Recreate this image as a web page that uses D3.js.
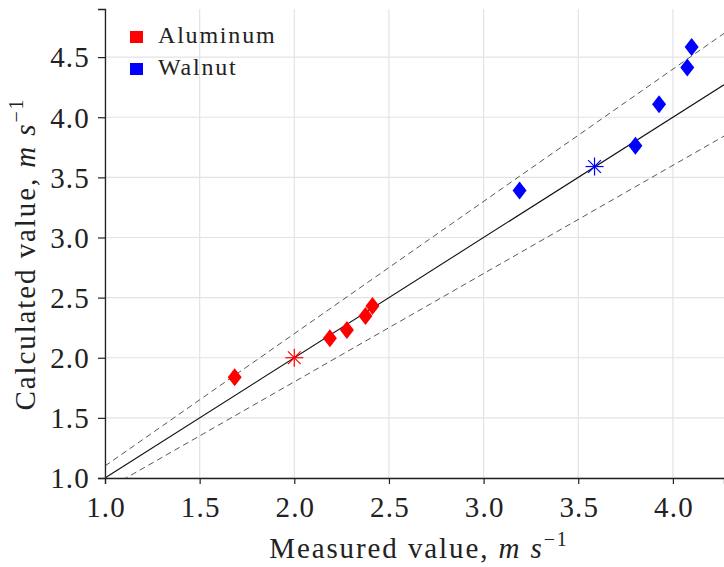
<!DOCTYPE html>
<html>
<head>
<meta charset="utf-8">
<script src="https://cdn.jsdelivr.net/npm/d3@7"></script>
<style>
  body { margin: 0; background: #fff; }
  text { font-family: "Liberation Serif", "DejaVu Serif", serif; fill: #222; }
</style>
</head>
<body>
<div id="canvas"></div>
<script>
(function(){

    // measured vs calculated, m/s
    var aluMeasured   = [1.685, 2.188, 2.278, 2.376, 2.413];
    var aluCalculated = [1.838, 2.162, 2.231, 2.348, 2.431];
    var aluRef        = [2.0, 2.0];

    var walMeasured   = [3.190, 3.802, 3.927, 4.076, 4.099];
    var walCalculated = [3.390, 3.763, 4.108, 4.413, 4.583];
    var walRef        = [3.586, 3.590];

    var xTicks = [1.0, 1.5, 2.0, 2.5, 3.0, 3.5, 4.0];
    var yTicks = [1.0, 1.5, 2.0, 2.5, 3.0, 3.5, 4.0, 4.5];
    var bandFactors = [1.1, 0.9];

    var width = 724, height = 567;
    var margin = {left: 105, top: 9, right: 0, bottom: 89};

    var svg = d3.select("#canvas")
                .append("svg")
                .attr("width", width)
                .attr("height", height);

    var x = d3.scaleLinear().domain([1.0, 4.27]).range([margin.left, width - margin.right]);
    var y = d3.scaleLinear().domain([1.0, 4.9]).range([height - margin.bottom, margin.top]);

    svg.append("clipPath").attr("id", "clip")
       .append("rect")
       .attr("x", margin.left).attr("y", margin.top)
       .attr("width", width - margin.left - margin.right)
       .attr("height", height - margin.top - margin.bottom);

    // grid
    svg.append("g").selectAll("line").data(xTicks).enter().append("line")
       .attr("x1", d => x(d)).attr("x2", d => x(d))
       .attr("y1", y.range()[0]).attr("y2", y.range()[1])
       .attr("stroke", "#e3e3e3").attr("stroke-width", 1.2);
    svg.append("g").selectAll("line").data(yTicks).enter().append("line")
       .attr("x1", x.range()[0]).attr("x2", x.range()[1])
       .attr("y1", d => y(d)).attr("y2", d => y(d))
       .attr("stroke", "#e3e3e3").attr("stroke-width", 1.2);

    var plot = svg.append("g").attr("clip-path", "url(#clip)");
    var xr = x.domain();

    // y = x
    plot.append("line")
        .attr("x1", x(xr[0])).attr("y1", y(xr[0]))
        .attr("x2", x(xr[1])).attr("y2", y(xr[1]))
        .attr("stroke", "#111").attr("stroke-width", 1.1);

    // +/- 10 % band
    for (var f of bandFactors) {
        plot.append("line")
            .attr("x1", x(xr[0])).attr("y1", y(xr[0] * f))
            .attr("x2", x(xr[1])).attr("y2", y(xr[1] * f))
            .attr("stroke", "#444").attr("stroke-width", 0.9)
            .attr("stroke-dasharray", "6,4");
    }

    var diamond = "M0,-9L7,0L0,9L-7,0Z";

    function drawSeries(mx, cy, ref, col) {
        plot.append("g").selectAll("path").data(mx).enter().append("path")
            .attr("d", diamond)
            .attr("transform", (d, i) => "translate(" + x(d) + "," + y(cy[i]) + ")")
            .attr("fill", col);

        var star = plot.append("g")
            .attr("transform", "translate(" + x(ref[0]) + "," + y(ref[1]) + ")");
        for (var a = 0; a < 180; a += 45) {
            var r = 9, t = a * Math.PI / 180;
            star.append("line")
                .attr("x1", -r * Math.cos(t)).attr("y1", -r * Math.sin(t))
                .attr("x2", r * Math.cos(t)).attr("y2", r * Math.sin(t))
                .attr("stroke", col).attr("stroke-width", 1.2);
        }
    }
    drawSeries(aluMeasured, aluCalculated, aluRef, "#ff0000");
    drawSeries(walMeasured, walCalculated, walRef, "#0000ff");

    // axes
    var xAxis = svg.append("g")
        .attr("transform", "translate(0," + y.range()[0] + ")")
        .call(d3.axisBottom(x).tickValues(xTicks).tickFormat(d3.format(".1f")).tickSize(6).tickPadding(8));
    var yAxis = svg.append("g")
        .attr("transform", "translate(" + x.range()[0] + ",0)")
        .call(d3.axisLeft(y).tickValues(yTicks).tickFormat(d3.format(".1f")).tickSize(7).tickPadding(8));

    [xAxis, yAxis].forEach(function (g) {
        g.select(".domain").attr("stroke", "#222").attr("stroke-width", 1.3);
        g.selectAll(".tick line").attr("stroke", "#222").attr("stroke-width", 1.2);
        g.selectAll(".tick text")
         .style("font-family", "Liberation Serif, serif")
         .style("font-size", "29px")
         .style("letter-spacing", "1.2px")
         .attr("fill", "#222");
    });
    xAxis.selectAll(".tick text").attr("dy", "0.85em").attr("dx", "0.6px");
    yAxis.selectAll(".tick text").attr("dy", "0.34em");

    // axis titles
    var xt = svg.append("text")
        .attr("x", 419).attr("y", 558)
        .attr("text-anchor", "middle")
        .style("font-size", "29px")
        .style("letter-spacing", "1.9px");
    xt.append("tspan").text("Measured value, ");
    xt.append("tspan").style("font-style", "italic").text("m");
    xt.append("tspan").text(" ");
    xt.append("tspan").style("font-style", "italic").text("s");
    xt.append("tspan").attr("dy", -12).style("font-size", "20px").text("\u22121");

    var yt = svg.append("text")
        .attr("transform", "translate(35,254) rotate(-90)")
        .attr("text-anchor", "middle")
        .style("font-size", "29px")
        .style("letter-spacing", "1.9px");
    yt.append("tspan").text("Calculated value, ");
    yt.append("tspan").style("font-style", "italic").text("m");
    yt.append("tspan").text(" ");
    yt.append("tspan").style("font-style", "italic").text("s");
    yt.append("tspan").attr("dy", -12).style("font-size", "20px").text("\u22121");

    // legend
    var legendNames = ["Aluminum", "Walnut"];
    var legendColors = ["#ff0000", "#0000ff"];
    var legend = svg.selectAll(".legend")
        .data(legendNames).enter().append("g")
        .attr("class", "legend")
        .attr("transform", (d, i) => "translate(130," + (31 + i * 32) + ")");
    legend.append("rect")
        .attr("width", 13).attr("height", 12)
        .attr("fill", (d, i) => legendColors[i]);
    legend.append("text")
        .attr("x", 28).attr("y", 12)
        .style("font-size", "24px")
        .style("letter-spacing", "1.8px")
        .text(d => d);

})();
</script>
</body>
</html>
